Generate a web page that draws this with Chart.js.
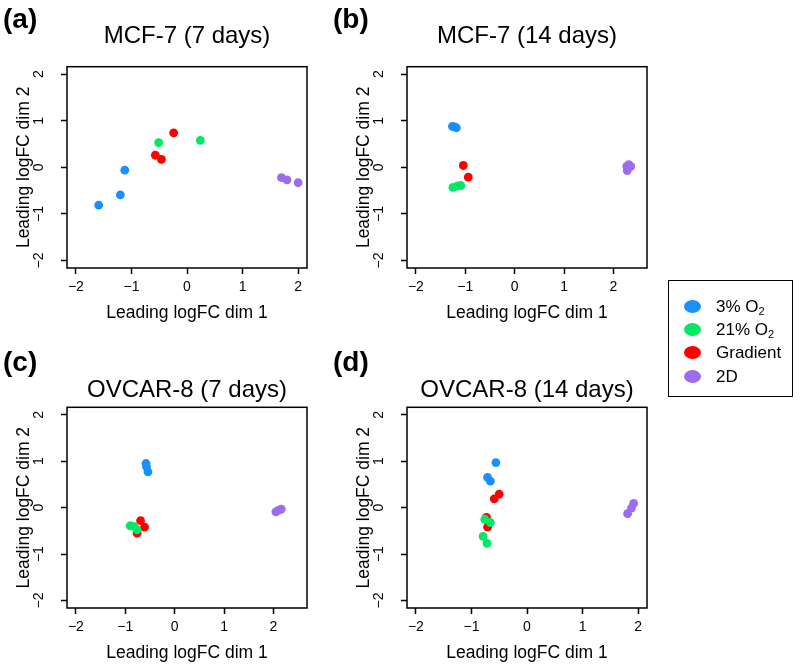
<!DOCTYPE html>
<html>
<head>
<meta charset="utf-8">
<script src="https://cdn.jsdelivr.net/npm/chart.js@4.4.1/dist/chart.umd.min.js"></script>
<style>
  body { margin: 0; background: #fff; font-family: 'Liberation Sans', Arial, sans-serif; }
  #fig { position: relative; width: 800px; height: 665px; overflow: hidden; }
  #fig canvas { position: absolute; }
  .tag { position: absolute; font-weight: bold; font-size: 28px; line-height: 28px; }
  #legend { position: absolute; left: 668px; top: 280px; width: 123px; height: 115px; border: 1.5px solid #000; }
  .row { position: absolute; left: 0; height: 20px; width: 120px; }
  .dot { position: absolute; left: 15px; top: 3px; width: 17px; height: 13px; border-radius: 50%; }
  .lab { position: absolute; left: 47px; top: 0; font-size: 17px; line-height: 20px; }
  .lab sub { font-size: 11px; vertical-align: -3px; line-height: 0; }
</style>
</head>
<body>
<div id="fig">
  <canvas id="pa" width="330" height="325" style="left:0;top:0"></canvas>
  <canvas id="pb" width="340" height="325" style="left:330px;top:0"></canvas>
  <canvas id="pc" width="330" height="325" style="left:0;top:340px"></canvas>
  <canvas id="pd" width="340" height="325" style="left:330px;top:340px"></canvas>
  <div class="tag" style="left:3px;top:5px">(a)</div>
  <div class="tag" style="left:333px;top:5px">(b)</div>
  <div class="tag" style="left:3px;top:348px">(c)</div>
  <div class="tag" style="left:333px;top:348px">(d)</div>
  <div id="legend"></div>
</div>
<script>
// groups and colours
const groups = ['3% O2', '21% O2', 'Gradient', '2D']
const groupLabels = ['3% O<sub>2</sub>', '21% O<sub>2</sub>', 'Gradient', '2D']
const colors = ['#1a90ff', '#00e864', '#ff0000', '#9b6cf0']

// MCF-7, 7 days  [dim1, dim2]
const mcf7d7_3 = [[-1.59, -0.81], [-1.20, -0.59], [-1.12, -0.06]]
const mcf7d7_21 = [[-0.51, 0.53], [0.24, 0.58]]
const mcf7d7_grad = [[-0.24, 0.74], [-0.57, 0.26], [-0.46, 0.17]]
const mcf7d7_2d = [[1.70, -0.22], [1.80, -0.27], [2.00, -0.33]]

// MCF-7, 14 days
const mcf7d14_3 = [[-1.26, 0.88], [-1.18, 0.85], [-1.22, 0.87]]
const mcf7d14_21 = [[-1.25, -0.43], [-1.16, -0.40], [-1.09, -0.39]]
const mcf7d14_grad = [[-1.04, 0.04], [-0.94, -0.21]]
const mcf7d14_2d = [[2.27, 0.02], [2.35, 0.02], [2.28, -0.07], [2.31, 0.06]]

// OVCAR-8, 7 days
const ovcar8d7_3 = [[-0.58, 0.95], [-0.57, 0.88], [-0.54, 0.77]]
const ovcar8d7_21 = [[-0.90, -0.39], [-0.82, -0.41], [-0.76, -0.48]]
const ovcar8d7_grad = [[-0.69, -0.28], [-0.61, -0.42], [-0.76, -0.55]]
const ovcar8d7_2d = [[2.05, -0.09], [2.10, -0.06], [2.16, -0.03]]

// OVCAR-8, 14 days
const ovcar8d14_3 = [[-0.56, 0.97], [-0.71, 0.65], [-0.66, 0.57]]
const ovcar8d14_21 = [[-0.76, -0.25], [-0.66, -0.32], [-0.79, -0.62], [-0.72, -0.77]]
const ovcar8d14_grad = [[-0.50, 0.29], [-0.59, 0.19], [-0.73, -0.21], [-0.71, -0.42]]
const ovcar8d14_2d = [[1.92, 0.09], [1.88, -0.01], [1.81, -0.13]]

Chart.defaults.font.family = "'Liberation Sans', Arial, sans-serif"
Chart.defaults.color = '#000'

const fmt = (v) => (v < 0 ? '\u2212' + Math.abs(v) : String(v))

const boxPlugin = {
  id: 'box',
  afterDraw(chart) {
    const { ctx, chartArea: a } = chart
    ctx.save()
    ctx.strokeStyle = '#000'
    ctx.lineWidth = 1.5
    ctx.strokeRect(a.left, a.top, a.right - a.left, a.bottom - a.top)
    ctx.restore()
  }
}

// R-style y tick labels, turned on their side
const yLabelPlugin = {
  id: 'yLabels',
  afterDraw(chart) {
    const { ctx, chartArea, scales } = chart
    const y = scales.y
    ctx.save()
    ctx.font = "14px 'Liberation Sans', Arial, sans-serif"
    ctx.fillStyle = '#000'
    ctx.textAlign = 'center'
    ctx.textBaseline = 'middle'
    y.ticks.forEach((t) => {
      ctx.save()
      ctx.translate(chartArea.left - 28, y.getPixelForValue(t.value))
      ctx.rotate(-Math.PI / 2)
      ctx.fillText(fmt(t.value), 0, 0)
      ctx.restore()
    })
    ctx.restore()
  }
}

const panels = [
  { id: 'pa', title: 'MCF-7 (7 days)', xMin: -2.16, xMax: 2.16, sets: [mcf7d7_3, mcf7d7_21, mcf7d7_grad, mcf7d7_2d], w: 330, yw: 67, tPad: { top: 21.6, bottom: 16.3 }, ytPad: 13.5 },
  { id: 'pb', title: 'MCF-7 (14 days)', xMin: -2.18, xMax: 2.68, sets: [mcf7d14_3, mcf7d14_21, mcf7d14_grad, mcf7d14_2d], w: 340, yw: 77, tPad: { top: 21.6, bottom: 16.3 }, ytPad: 23.5 },
  { id: 'pc', title: 'OVCAR-8 (7 days)', xMin: -2.18, xMax: 2.68, sets: [ovcar8d7_3, ovcar8d7_21, ovcar8d7_grad, ovcar8d7_2d], w: 330, yw: 67, tPad: { top: 35.6, bottom: 2.9 }, ytPad: 13.5 },
  { id: 'pd', title: 'OVCAR-8 (14 days)', xMin: -2.16, xMax: 2.16, sets: [ovcar8d14_3, ovcar8d14_21, ovcar8d14_grad, ovcar8d14_2d], w: 340, yw: 77, tPad: { top: 35.6, bottom: 2.9 }, ytPad: 23.5 }
]

const plotW = 240
const gridOpts = { drawOnChartArea: false, drawTicks: true, tickLength: 6, tickColor: '#000', tickWidth: 1.5 }

panels.forEach((p) => {
  new Chart(document.getElementById(p.id), {
    type: 'scatter',
    data: {
      datasets: groups.map((g, i) => ({
        label: g,
        data: p.sets[i].map(([x, y]) => ({ x, y })),
        backgroundColor: colors[i],
        borderWidth: 0,
        pointRadius: 4.4,
        pointHoverRadius: 4.4
      }))
    },
    options: {
      responsive: false,
      animation: false,
      devicePixelRatio: 1,
      layout: { padding: { left: 0, right: p.w - p.yw - plotW, top: 0, bottom: 0 } },
      plugins: {
        legend: { display: false },
        tooltip: { enabled: false },
        title: { display: true, text: p.title, fullSize: false, font: { size: 24, weight: 'normal' }, color: '#000', padding: p.tPad }
      },
      scales: {
        x: {
          type: 'linear',
          min: p.xMin,
          max: p.xMax,
          afterFit: (s) => { s.height = 57 },
          grid: gridOpts,
          border: { display: false },
          ticks: { stepSize: 1, includeBounds: false, maxRotation: 0, padding: 5, font: { size: 14 }, color: '#000', callback: (v) => fmt(v) },
          title: { display: true, text: 'Leading logFC dim 1', font: { size: 17.5 }, color: '#000', padding: { top: 0, bottom: 1.5 } }
        },
        y: {
          type: 'linear',
          min: -2.16,
          max: 2.16,
          afterFit: (s) => { s.width = p.yw },
          grid: gridOpts,
          border: { display: false },
          ticks: { display: false, stepSize: 1, includeBounds: false },
          title: { display: true, text: 'Leading logFC dim 2', font: { size: 17.5 }, color: '#000', padding: { top: p.ytPad, bottom: 0 } }
        }
      }
    },
    plugins: [boxPlugin, yLabelPlugin]
  })
})

// shared legend
const legend = document.getElementById('legend')
const rowTops = [16, 39, 62, 86]
groupLabels.forEach((g, i) => {
  const row = document.createElement('div')
  row.className = 'row'
  row.style.top = rowTops[i] + 'px'
  row.innerHTML = '<div class="dot" style="background:' + colors[i] + '"></div><div class="lab">' + g + '</div>'
  legend.appendChild(row)
})
</script>
</body>
</html>
